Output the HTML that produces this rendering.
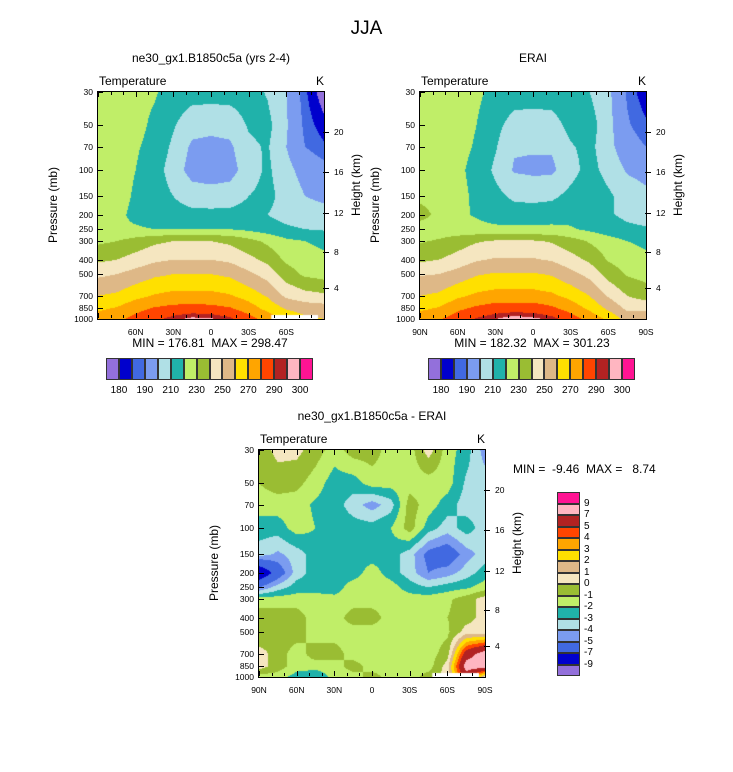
<!DOCTYPE html>
<html><head><meta charset="utf-8"><style>
body{margin:0;background:#fff;width:733px;height:772px;overflow:hidden;position:relative;font-family:"Liberation Sans",Arial,sans-serif;color:#000}
.t{position:absolute;white-space:nowrap}
canvas{position:absolute}
.rot{position:absolute;transform:rotate(-90deg);transform-origin:center;white-space:nowrap}
</style></head><body>
<div class="t" style="left:0;width:733px;text-align:center;top:18px;font-size:19px">JJA</div>
<div id="root"></div>
<script>
// ---- data ----
const lats=[90,75,60,45,30,15,0,-15,-30,-45,-60,-75,-90];
const levels=[30,50,70,100,150,200,250,300,400,500,700,850,1000];
const modelT=[
[225,224,223,221,216,214,214,214,215,209,200,186,176],
[224,224,223,218,211,204,203,204,211,213,201,188,182],
[224,223,221,217,208,198,197,198,208,211,200,190,186],
[224,223,220,215,205,196,195,196,205,212,203,196,193],
[224,223,219,215,210,205,204,205,210,213,206,200,198],
[224,222,218,216,214,213,213,213,214,210,206,204,203],
[221,221,221,220,220,220,220,220,218,215,212,210,209],
[228,230,234,238,240,240,240,238,233,228,222,220,218],
[238,240,244,248,250,250,250,248,243,237,228,224,222],
[248,250,254,258,260,260,260,258,252,246,235,228,226],
[260,262,267,271,273,273,273,271,266,259,248,244,242],
[268,271,277,281,283,284,283,281,275,267,259,256,255],
[275,278,283,288,293,297,296,292,284,276,268,262,260]];
const eraiT=[
[226,224,223,222,217,215,215,215,217,210,202,189,181],
[225,225,224,220,213,206,205,206,213,215,203,191,186],
[226,225,223,219,211,201,201,201,209,213,203,194,190],
[227,226,222,217,208,199,198,198,206,214,206,199,197],
[228,227,223,218,213,208,207,208,213,218,212,205,202],
[233,228,222,219,216,215,215,216,217,215,211,208,206],
[226,225,224,223,222,222,222,222,221,218,215,212,211],
[229,231,235,239,241,241,241,239,234,229,224,220,218],
[238,240,244,249,251,251,251,249,244,238,229,225,222],
[249,250,254,259,261,261,261,259,253,247,236,229,226],
[260,262,268,272,274,274,274,272,267,260,249,240,236],
[268,271,278,282,285,285,285,282,276,268,258,248,247],
[276,279,285,291,295,299,297,293,285,277,268,256,259]];
const diffT=[
[-0.5,0.3,0.3,-0.5,-1.5,-0.5,-0.5,-1.5,-1.5,0.5,-1.5,-2.5,-4.5],
[-1,-0.5,-0.7,-1.5,-2.5,-2.5,-1.5,-1.5,-1.5,-1.5,-1.5,-3.2,-3.5],
[-1.5,-1.5,-1.5,-2.2,-2.5,-3.5,-4.5,-3.5,-0.5,-1.5,-2.5,-3.5,-3.5],
[-2.5,-2.5,-1.5,-2,-2.5,-2.5,-2.5,-2,-0.5,-2.5,-3.5,-2.5,-3.5],
[-3.5,-4.2,-3.5,-2.5,-2.5,-2.5,-2.5,-2.5,-3.5,-5.5,-6,-4.5,-3.5],
[-9,-6,-3.5,-2.5,-2.5,-2.5,-1.5,-2.5,-3.5,-5,-4.5,-3.5,-2.5],
[-5,-3.5,-2.5,-2.5,-2.5,-1.5,-1.5,-1.5,-2.5,-3,-2.5,-2.2,-1.5],
[-1.5,-1.5,-1.5,-1.5,-1.7,-1.5,-1.5,-1.5,-1.5,-1.5,-1.2,-0.5,0.5],
[-0.5,-0.5,-0.5,-1.5,-1.5,-0.5,-0.5,-1.5,-1.5,-1.5,-1,-0.5,0.5],
[-1,-0.5,-0.5,-1.5,-1.5,-1.5,-1.5,-1.5,-1.5,-1.5,-1.2,0.5,0.5],
[0.5,-0.5,-1.5,-0.5,-0.5,-1.5,-1.5,-1.5,-1.5,-1.5,-0.5,6,8],
[0.5,-0.5,-1.5,-1.5,-1.5,-0.5,-1.5,-1.5,-1.5,-1.5,0.5,8,8],
[-1.5,-1.5,-2.5,-3,-1.5,-1.5,-0.5,-1.5,-1.5,-0.5,0.5,6,0.5]];
const tLevels=[180,185,190,200,210,220,230,240,250,260,270,280,290,295,300];
const dLevels=[-9,-7,-5,-4,-3,-2,-1,0,1,2,3,4,5,7,9];
const tLabels=['180','190','210','230','250','270','290','300'];
const dLabels=['9','7','5','4','3','2','1','0','-1','-2','-3','-4','-5','-7','-9'];
const presTicks=[30,50,70,100,150,200,250,300,400,500,700,850,1000];
const heightTicks=[20,16,12,8,4];
const heightY=[131,171,212,251,287];
const colors=['#9370DB','#0000CD','#4169E1','#7B9CF0','#B0E0E6','#20B2AA','#C0EE68','#9ABD33','#F5E6C0','#DEB887','#FFE000','#FFA500','#FF4500','#B22222','#FFB6C1','#FF1493'];

const root=document.getElementById('root');
function txt(name,s,x,y,size,align){
  const d=document.createElement('div');d.className='t';
  
  
  d.textContent=s;d.style.fontSize=size+'px';d.style.top=y+'px';
  if(align==='c'){d.style.left=(x-150)+'px';d.style.width='300px';d.style.textAlign='center';}
  else if(align==='r'){d.style.left=(x-100)+'px';d.style.width='100px';d.style.textAlign='right';}
  else d.style.left=x+'px';
  root.appendChild(d);return d;
}
function box(name,x,y,w,h,st){
  const d=document.createElement('div');d.style.position='absolute';
  
  
  d.style.left=x+'px';d.style.top=y+'px';d.style.width=w+'px';d.style.height=h+'px';
  Object.assign(d.style,st||{});root.appendChild(d);return d;
}
function colorIdx(v,lv){let i=0;while(i<lv.length&&v>=lv[i])i++;return i;}
function hex(c){return [parseInt(c.substr(1,2),16),parseInt(c.substr(3,2),16),parseInt(c.substr(5,2),16)];}
const rgb=colors.map(hex);

function panel(name,X,Y,data,lv,title,xlab90,whiteCut){
  const W=226,H=227;
  const lnMax=Math.log(1000/30);
  const py=p=>Y+H*Math.log(p/30)/lnMax;
  const lx=l=>X+W*(90-l)/180;
  const cv=document.createElement('canvas');cv.width=W;cv.height=H;
  cv.style.left=X+'px';cv.style.top=Y+'px';
  
  
  root.appendChild(cv);
  const ctx=cv.getContext('2d');const img=ctx.createImageData(W,H);
  const lp=levels.map(p=>Math.log(p));
  for(let j=0;j<H;j++){
    const l=Math.log(30)+(j+0.5)/H*lnMax;
    let r=0;while(r<levels.length-2&&l>lp[r+1])r++;
    const fy=Math.min(1,Math.max(0,(l-lp[r])/(lp[r+1]-lp[r])));
    for(let i=0;i<W;i++){
      const lat=90-(i+0.5)/W*180;
      const ci=(90-lat)/15;let c=Math.min(lats.length-2,Math.floor(ci));const fx=ci-c;
      const v=(data[r][c]*(1-fx)+data[r][c+1]*fx)*(1-fy)+(data[r+1][c]*(1-fx)+data[r+1][c+1]*fx)*fy;
      const col=rgb[colorIdx(v,lv)];const k=(j*W+i)*4;
      img.data[k]=col[0];img.data[k+1]=col[1];img.data[k+2]=col[2];img.data[k+3]=255;
    }
  }
  ctx.putImageData(img,0,0);
  if(whiteCut!==null){ctx.fillStyle='#fff';ctx.fillRect(lx(whiteCut)-X,H-4,W-(lx(whiteCut)-X)-6,4);}
  box(name+'-frame',X-1,Y-1,W,H,{border:'1px solid #000'});
  txt(name+'-title',title,X+W/2,Y-41,12,'c');
  txt(name+'-variable-label','Temperature',X+1,Y-18,12);
  txt(name+'-units-label','K',X+W-8,Y-18,12);
  presTicks.forEach(p=>{const y=py(p);
    txt(name+'-y-tick',String(p),X-5,y-5,8.5,'r');
    box(name+'-y-tick-mark',X,y,5,1,{background:'#000'});});
  heightTicks.forEach((h,i)=>{const y=Y+heightY[i]-91;
    box(name+'-height-tick-mark',X+W-1,y,6,1,{background:'#000'});
    txt(name+'-height-tick',String(h),X+W+10,y-5,8.5);});
  for(let l=90;l>=-90;l-=10){box(name+'-x-minor',lx(l),Y,1,(l%30===0)?5:3,{background:'#000'});
    box(name+'-x-minor',lx(l),Y+H-((l%30===0)?6:4),1,(l%30===0)?5:3,{background:'#000'});}
  const xt=[[90,'90N'],[60,'60N'],[30,'30N'],[0,'0'],[-30,'30S'],[-60,'60S'],[-90,'90S']];
  xt.forEach(([l,s])=>{if(!xlab90&&Math.abs(l)===90)return;txt(name+'-x-tick',s,lx(l),Y+H+8,8.5,'c');});
  const a=txt(name+'-y-axis-title','Pressure (mb)',0,0,12);a.className='rot';a.style.left=(X-85)+'px';a.style.top=(Y+H/2-8)+'px';a.style.width='80px';a.style.textAlign='center';
  const b=txt(name+'-y2-axis-title','Height (km)',0,0,12);b.className='rot';b.style.left=(X+W-8)+'px';b.style.top=(Y+H/2-28)+'px';b.style.width='80px';b.style.textAlign='center';
}
panel('model-panel',98,92,modelT,tLevels,'ne30_gx1.B1850c5a (yrs 2-4)',false,-48);
panel('erai-panel',420,92,eraiT,tLevels,'ERAI',true,null);
panel('diff-panel',259,450,diffT,dLevels,'ne30_gx1.B1850c5a - ERAI',true,-48);
txt('model-minmax','MIN = 176.81  MAX = 298.47',210,336,12,'c').style.whiteSpace='pre';
txt('erai-minmax','MIN = 182.32  MAX = 301.23',532,336,12,'c').style.whiteSpace='pre';
txt('diff-minmax','MIN =  -9.46  MAX =   8.74',513,462,12).style.whiteSpace='pre';

function hbar(name,X){
  const w=207/16;
  colors.forEach((c,i)=>box(name+'-swatch',X+i*w,358,w,22,{background:c,boxSizing:'border-box',border:'1px solid #333'}));
  const idx=[1,3,5,7,9,11,13,15];
  tLabels.forEach((s,k)=>txt(name+'-label',s,X+idx[k]*w,385,10,'c'));
}
hbar('model-colorbar',106);hbar('erai-colorbar',428);
const vh=184/16;
colors.slice().reverse().forEach((c,i)=>box('diff-colorbar-swatch',557,492+i*vh,23,vh,{background:c,boxSizing:'border-box',border:'1px solid #333'}));
dLabels.forEach((s,i)=>txt('diff-colorbar-label',s,584,492+(i+1)*vh-6,10));
</script>
</body></html>
